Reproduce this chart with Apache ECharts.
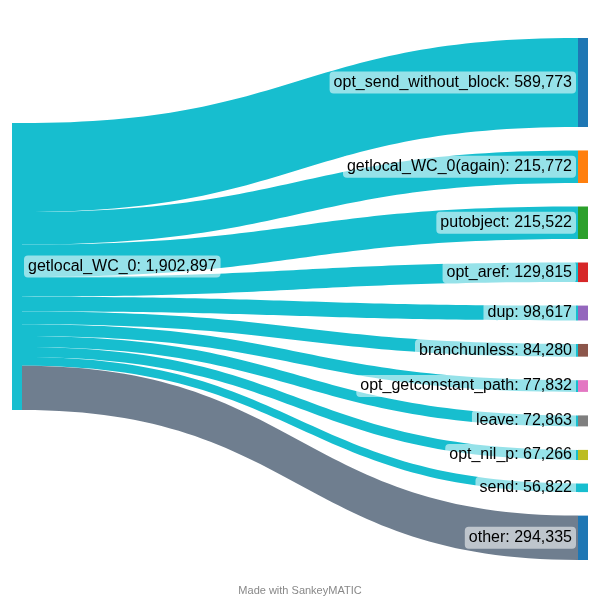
<!DOCTYPE html>
<html><head><meta charset="utf-8">
<script src="https://cdn.jsdelivr.net/npm/echarts@6/dist/echarts.min.js"></script>
<style>html,body{margin:0;padding:0;background:#fff}#c{width:600px;height:600px}</style>
</head><body><div id="c"></div>
<script>
const sourceName = 'getlocal_WC_0';
const sourceColor = '#17becf';
const targets = ['opt_send_without_block','getlocal_WC_0(again)','putobject','opt_aref','dup','branchunless','opt_getconstant_path','leave','opt_nil_p','send','other'];
const values = [589773,215772,215522,129815,98617,84280,77832,72863,67266,56822,294335];
const targetColors = ['#1f77b4','#ff7f0e','#2ca02c','#d62728','#9467bd','#8c564b','#e377c2','#7f7f7f','#bcbd22','#17becf','#1f77b4'];
const linkColors = ['#17becf','#17becf','#17becf','#17becf','#17becf','#17becf','#17becf','#17becf','#17becf','#17becf','#6f7e8f'];

const fmt = v => v.toLocaleString('en-US');
const nodes = [{name: sourceName, localY: 0.163, itemStyle:{color: sourceColor}, label:{position:'right', distance:2}}]
  .concat(targets.map((t,i)=>({name:t, itemStyle:{color:targetColors[i]}, label:{position:'left', distance:2}})));
const links = targets.map((t,i)=>({source: sourceName, target: t, value: values[i], lineStyle:{color: linkColors[i], opacity:1}}));

const chart = echarts.init(document.getElementById('c'), null, {renderer:'canvas'});
chart.setOption({
  animation:false,
  graphic:[{type:'text', left:'center', top:585, style:{text:'Made with SankeyMATIC', fill:'#888', fontSize:11, fontFamily:'Liberation Sans, Arial, sans-serif'}}],
  series:[{
    type:'sankey',
    left:12, right:12, top:38, bottom:40,
    nodeWidth:10, nodeGap:23.5,
    layoutIterations:0,
    draggable:false,
    emphasis:{disabled:true},
    data: nodes,
    links: links,
    lineStyle:{curveness:0.5, opacity:1},
    itemStyle:{borderWidth:0},
    label:{
      color:'#000', fontSize:16, fontFamily:'Liberation Sans, Arial, sans-serif',
      backgroundColor:'rgba(255,255,255,0.55)', borderRadius:4, padding:[3,4,3,4],
      formatter: p => p.name + ': ' + fmt(p.value)
    }
  }]
});
</script></body></html>
